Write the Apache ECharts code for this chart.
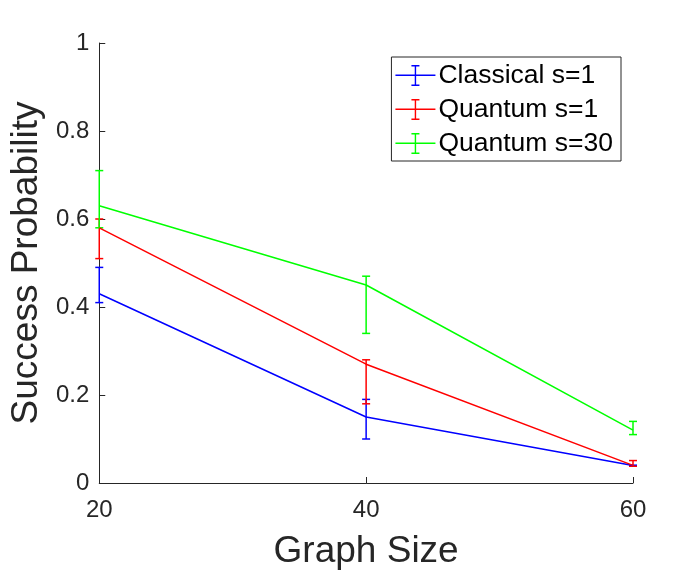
<!DOCTYPE html>
<html>
<head>
<meta charset="utf-8">
<script src="https://cdn.jsdelivr.net/npm/echarts@6/dist/echarts.min.js"></script>
<style>
  html, body { margin: 0; padding: 0; background: #fff; }
  #chart { width: 700px; height: 575px; }
</style>
</head>
<body>
<div id="chart"></div>
<script>
const graphSizes = [20, 40, 60]
const yTicks = [0, 0.2, 0.4, 0.6, 0.8, 1]

const classicalMean = [0.43, 0.15, 0.04]
const classicalLow = [0.41, 0.10, 0.04]
const classicalHigh = [0.49, 0.19, 0.04]

const quantum1Mean = [0.58, 0.27, 0.04]
const quantum1Low = [0.51, 0.18, 0.038]
const quantum1High = [0.60, 0.28, 0.051]

const quantum30Mean = [0.63, 0.45, 0.12]
const quantum30Low = [0.58, 0.34, 0.11]
const quantum30High = [0.71, 0.47, 0.14]

const seriesNames = ['Classical s=1', 'Quantum s=1', 'Quantum s=30']
const colors = ['#0000ff', '#ff0000', '#00ff00']

const textColor = '#262626'
const font = '"Liberation Sans", Arial, sans-serif'

// legend icon: line with an error bar through it
const legendIcon = 'path://M0,9.6 h40 v1.4 h-40 Z M19.3,0 h1.4 v21 h-1.4 Z M16,0 h8 v1.4 h-8 Z M16,19.6 h8 v1.4 h-8 Z'

function errorBarSeries(name, color, lows, highs) {
  return {
    name: name + ' err',
    type: 'custom',
    silent: true,
    z: 3,
    data: graphSizes.map((x, i) => [x, lows[i], highs[i]]),
    encode: { x: 0, y: [1, 2] },
    renderItem: (params, api) => {
      const top = api.coord([api.value(0), api.value(2)])
      const bottom = api.coord([api.value(0), api.value(1)])
      const half = 4
      const style = { stroke: color, lineWidth: 1.5, fill: null }
      return {
        type: 'group',
        children: [
          { type: 'line', shape: { x1: top[0], y1: top[1], x2: bottom[0], y2: bottom[1] }, style },
          { type: 'line', shape: { x1: top[0] - half, y1: top[1], x2: top[0] + half, y2: top[1] }, style },
          { type: 'line', shape: { x1: bottom[0] - half, y1: bottom[1], x2: bottom[0] + half, y2: bottom[1] }, style }
        ]
      }
    }
  }
}

function lineSeries(name, color, means) {
  return {
    name: name,
    type: 'line',
    data: graphSizes.map((x, i) => [x, means[i]]),
    showSymbol: false,
    symbol: legendIcon,
    lineStyle: { color: color, width: 1.5 },
    itemStyle: { color: color },
    z: 4
  }
}

const chart = echarts.init(document.getElementById('chart'))

const option = {
  animation: false,
  backgroundColor: '#fff',
  grid: { left: 97, right: 67, top: 43, bottom: 92, containLabel: false },
  legend: {
    data: seriesNames.map(n => ({ name: n, icon: legendIcon })),
    orient: 'vertical',
    right: 79,
    top: 57,
    padding: [5, 8, 4, 4],
    itemWidth: 40,
    itemHeight: 21,
    itemGap: 7,
    backgroundColor: '#fff',
    borderColor: '#262626',
    borderWidth: 1,
    borderRadius: 0,
    textStyle: { fontFamily: font, fontSize: 26.5, lineHeight: 27, color: '#000', padding: [0, 0, 0, -2] },
    selectedMode: false
  },
  xAxis: {
    type: 'value',
    min: 20,
    max: 60,
    interval: 20,
    name: 'Graph Size',
    nameLocation: 'middle',
    nameGap: 50,
    nameTextStyle: { fontFamily: font, fontSize: 37, color: textColor },
    axisLine: { show: true, lineStyle: { color: textColor, width: 1 } },
    axisTick: { show: true, inside: true, length: 6, lineStyle: { color: textColor } },
    axisLabel: { fontFamily: font, fontSize: 24, color: textColor, margin: 15 },
    splitLine: { show: false }
  },
  yAxis: {
    type: 'value',
    min: 0,
    max: 1,
    interval: 0.2,
    name: 'Success Probability',
    nameLocation: 'middle',
    nameGap: 54,
    nameTextStyle: { fontFamily: font, fontSize: 37, color: textColor },
    axisLine: { show: true, lineStyle: { color: textColor, width: 1 } },
    axisTick: { show: true, inside: true, length: 6, lineStyle: { color: textColor } },
    axisLabel: {
      fontFamily: font, fontSize: 24, color: textColor, margin: 10,
      formatter: v => yTicks.includes(Math.round(v * 10) / 10) ? String(Math.round(v * 10) / 10) : ''
    },
    splitLine: { show: false }
  },
  series: [
    lineSeries(seriesNames[0], colors[0], classicalMean),
    lineSeries(seriesNames[1], colors[1], quantum1Mean),
    lineSeries(seriesNames[2], colors[2], quantum30Mean),
    errorBarSeries(seriesNames[0], colors[0], classicalLow, classicalHigh),
    errorBarSeries(seriesNames[1], colors[1], quantum1Low, quantum1High),
    errorBarSeries(seriesNames[2], colors[2], quantum30Low, quantum30High)
  ]
}

chart.setOption(option)
</script>
</body>
</html>
